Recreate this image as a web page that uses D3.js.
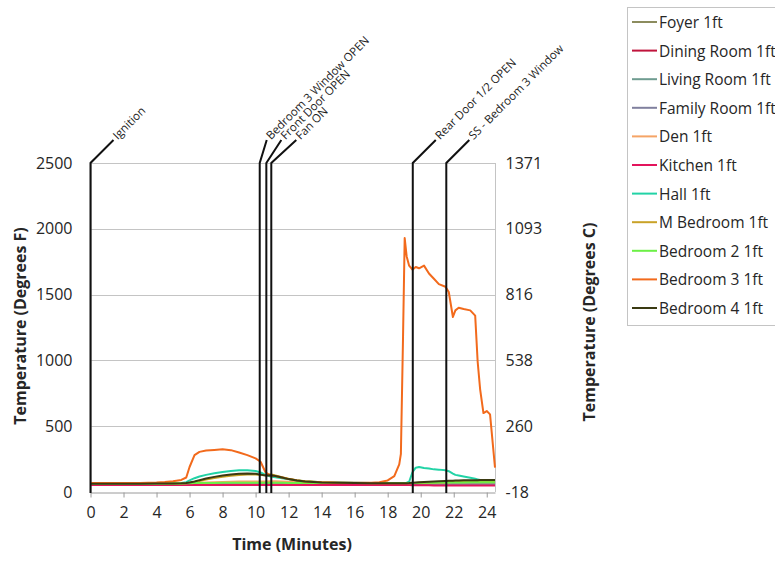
<!DOCTYPE html>
<html>
<head>
<meta charset="utf-8">
<script src="https://cdn.jsdelivr.net/npm/d3@7"></script>
<style>
  html, body { margin: 0; padding: 0; background: #fff; }
  svg { display: block; font-family: "Open Sans", sans-serif; }
</style>
</head>
<body>
<svg id="chart" width="775" height="561"></svg>
<script>
// ---------------- DATA ----------------
const minutes = [0, 1, 2, 3, 4, 4.5, 5, 5.5, 5.8, 6.0, 6.3, 6.6, 7, 7.5, 8, 8.5, 9, 9.5, 10, 10.3,
  10.6, 10.9, 11.2, 11.6, 12, 12.5, 13, 14, 15, 16, 17, 17.5, 18, 18.4, 18.7, 18.8, 18.93, 19.03, 19.15, 19.3,
  19.5, 19.7, 19.9, 20.2, 20.5, 20.8, 21.1, 21.5, 21.7, 21.95, 22.1, 22.3, 22.6, 23.0, 23.3, 23.45, 23.6, 23.8, 24.0, 24.2,
  24.5];

const foyer = [62, 62, 62, 62, 62, 62, 62, 62, 62, 62, 62, 63, 63, 64, 64, 65, 65, 66, 66, 66,
  67, 68, 68, 67, 66, 65, 64, 63, 62, 62, 62, 62, 62, 62, 62, 62, 62, 62, 62, 62,
  62, 62, 62, 62, 62, 62, 62, 62, 62, 62, 62, 62, 62, 62, 62, 62, 62, 62, 62, 62,
  62];
const diningRoom = [56, 56, 56, 56, 56, 56, 56, 56, 56, 56, 56, 56, 56, 56, 56, 56, 56, 56, 56, 56,
  56, 56, 56, 56, 56, 56, 56, 56, 56, 56, 56, 56, 56, 56, 56, 56, 56, 56, 56, 56,
  55, 55, 55, 55, 55, 55, 55, 55, 55, 55, 55, 55, 55, 55, 55, 55, 55, 55, 55, 55,
  55];
const livingRoom = [61, 61, 61, 61, 61, 61, 61, 61, 61, 61, 62, 62, 63, 63, 64, 64, 65, 65, 65, 65,
  66, 66, 66, 65, 64, 63, 63, 62, 62, 61, 61, 61, 61, 61, 61, 61, 61, 61, 61, 61,
  62, 62, 62, 62, 62, 62, 62, 62, 62, 62, 62, 62, 62, 62, 62, 62, 62, 62, 62, 62,
  62];
const familyRoom = [59, 59, 59, 59, 59, 59, 59, 59, 59, 59, 59, 59, 60, 60, 60, 60, 61, 61, 61, 61,
  61, 61, 61, 61, 60, 60, 60, 60, 59, 59, 59, 59, 59, 59, 59, 59, 59, 59, 59, 59,
  59, 59, 59, 59, 59, 59, 59, 59, 59, 59, 59, 59, 59, 59, 59, 59, 59, 59, 59, 59,
  59];
const den = [65, 65, 65, 65, 65, 65, 66, 66, 66, 67, 68, 70, 72, 74, 76, 78, 79, 80, 80, 80,
  80, 82, 82, 80, 77, 74, 72, 70, 68, 67, 66, 66, 66, 66, 66, 66, 66, 66, 66, 66,
  67, 68, 69, 70, 71, 72, 72, 73, 73, 74, 74, 74, 74, 75, 75, 75, 75, 75, 75, 75,
  75];
const kitchen = [54, 54, 54, 54, 54, 54, 54, 54, 54, 54, 54, 54, 54, 54, 54, 54, 54, 54, 54, 54,
  54, 54, 54, 54, 54, 54, 54, 54, 54, 54, 54, 54, 54, 54, 54, 54, 54, 54, 54, 54,
  52, 52, 51, 51, 51, 50, 50, 50, 50, 50, 50, 50, 50, 50, 50, 50, 50, 50, 50, 50,
  50];
const hall = [64, 64, 64, 64, 65, 65, 66, 68, 75, 88, 105, 118, 130, 142, 152, 160, 165, 165, 160, 148,
  130, 118, 112, 105, 97, 88, 82, 75, 72, 70, 69, 69, 69, 69, 69, 69, 69, 69, 70, 78,
  150, 185, 190, 182, 178, 172, 170, 165, 158, 140, 130, 125, 118, 108, 100, 96, 92, 88, 85, 83,
  82];
const mBedroom = [63, 63, 63, 63, 64, 64, 64, 65, 66, 70, 76, 84, 95, 106, 116, 124, 130, 133, 133, 130,
  128, 135, 125, 112, 100, 90, 82, 74, 70, 68, 67, 67, 67, 67, 67, 67, 67, 67, 67, 67,
  68, 69, 70, 71, 72, 73, 74, 75, 76, 77, 77, 78, 78, 79, 79, 80, 80, 80, 80, 80,
  80];
const bedroom2 = [65, 65, 65, 65, 65, 65, 65, 65, 66, 67, 68, 68, 69, 69, 70, 70, 70, 70, 70, 70,
  70, 70, 70, 70, 69, 69, 69, 68, 68, 68, 68, 68, 68, 68, 68, 68, 68, 68, 68, 68,
  69, 69, 70, 70, 71, 71, 72, 72, 72, 73, 73, 73, 73, 74, 74, 74, 74, 74, 74, 74,
  74];
const bedroom3 = [68, 68, 68, 69, 72, 76, 82, 92, 110, 190, 280, 305, 315, 320, 325, 318, 300, 280, 255, 230,
  150, 125, 122, 110, 98, 88, 80, 74, 71, 70, 71, 75, 88, 120, 210, 290, 1180, 1930, 1790, 1720,
  1690, 1710, 1700, 1720, 1660, 1620, 1580, 1560, 1520, 1330, 1380, 1400, 1390, 1380, 1340, 990, 780, 600, 615, 590,
  185];
const bedroom4 = [63, 63, 63, 63, 64, 64, 65, 66, 68, 72, 80, 90, 102, 115, 125, 133, 138, 140, 138, 132,
  125, 128, 122, 110, 98, 88, 80, 73, 70, 68, 67, 67, 67, 67, 67, 67, 67, 67, 67, 68,
  70, 72, 74, 76, 78, 80, 82, 84, 85, 86, 87, 88, 89, 90, 90, 90, 91, 91, 92, 92,
  92];

const seriesNames = ["Foyer 1ft", "Dining Room 1ft", "Living Room 1ft", "Family Room 1ft", "Den 1ft",
  "Kitchen 1ft", "Hall 1ft", "M Bedroom 1ft", "Bedroom 2 1ft", "Bedroom 3 1ft", "Bedroom 4 1ft"];
const seriesValues = [foyer, diningRoom, livingRoom, familyRoom, den, kitchen, hall, mBedroom, bedroom2, bedroom3, bedroom4];
const seriesColors = ["#8c8c5e", "#c0143c", "#6f9c90", "#80809e", "#f5a466", "#e3145c", "#22d3a6",
  "#c9a227", "#6cf046", "#f26a1c", "#3a3a12"];

const eventTimes = [0, 10.25, 10.65, 10.95, 19.52, 21.55];
const eventLabels = ["Ignition", "Bedroom 3 Window OPEN", "Front Door OPEN", "Fan ON",
  "Rear Door 1/2 OPEN", "SS - Bedroom 3 Window"];

const xTicks = [0, 2, 4, 6, 8, 10, 12, 14, 16, 18, 20, 22, 24];
const yTicksF = [0, 500, 1000, 1500, 2000, 2500];

// ---------------- DRAWING ----------------
const svg = d3.select("#chart");
svg.append("rect").attr("width", 775).attr("height", 561).attr("fill", "#fff");

const x = d3.scaleLinear().domain([0, 24.5]).range([90.5, 495]);
const y = d3.scaleLinear().domain([0, 2500]).range([492, 163]);
const toC = f => (f - 32) * 5 / 9;
const yC = d3.scaleLinear().domain([toC(0), toC(2500)]).range([492, 163]);

// gridlines
svg.append("g").selectAll("line").data(yTicksF.filter(d => d > 0)).join("line")
  .attr("x1", x(0)).attr("x2", x(24.5))
  .attr("y1", d => Math.round(y(d)) + 0.5).attr("y2", d => Math.round(y(d)) + 0.5)
  .attr("stroke", "#c4c4c4").attr("stroke-width", 1);
// right border
svg.append("line").attr("x1", 495.5).attr("x2", 495.5).attr("y1", y(2500)).attr("y2", y(0))
  .attr("stroke", "#c4c4c4");

// left axis
const yAxis = d3.axisLeft(y).tickValues(yTicksF).tickSize(0).tickPadding(18).tickFormat(d3.format("d"));
const gy = svg.append("g").attr("transform", "translate(90.5,0)").call(yAxis);
gy.select(".domain").attr("stroke", "#8a8a8a");
gy.selectAll("text").attr("font-size", 16).attr("fill", "#262626").attr("font-family", "Open Sans");

// right axis (Celsius)
const yAxisR = d3.axisRight(yC).tickValues(yTicksF.map(toC)).tickSize(0).tickPadding(10)
  .tickFormat(d => Math.round(d));
const gyr = svg.append("g").attr("transform", "translate(495.5,0)").call(yAxisR);
gyr.select(".domain").remove();
gyr.selectAll("text").attr("font-size", 16).attr("fill", "#262626").attr("font-family", "Open Sans");

// bottom axis
const xAxis = d3.axisBottom(x).tickValues(xTicks).tickSize(5).tickPadding(9).tickSizeOuter(0);
const gx = svg.append("g").attr("transform", "translate(0,492.5)").call(xAxis);
gx.select(".domain").attr("stroke", "#9a9a9a");
gx.selectAll(".tick line").attr("stroke", "#9a9a9a");
gx.selectAll("text").attr("font-size", 16).attr("fill", "#262626").attr("font-family", "Open Sans");

// axis titles
svg.append("text").attr("x", 292).attr("y", 550).attr("text-anchor", "middle")
  .attr("font-size", 16).attr("font-weight", "bold").attr("fill", "#262626")
  .text("Time (Minutes)");
svg.append("text").attr("transform", "translate(26,326) rotate(-90)").attr("text-anchor", "middle")
  .attr("font-size", 16).attr("font-weight", "bold").attr("fill", "#262626")
  .text("Temperature (Degrees F)");
svg.append("text").attr("transform", "translate(595,322) rotate(-90)").attr("text-anchor", "middle")
  .attr("font-size", 16).attr("font-weight", "bold").attr("fill", "#262626")
  .text("Temperature (Degrees C)");

// series lines
const line = d3.line().x((d, i) => x(minutes[i])).y(d => y(d)).curve(d3.curveLinear);
svg.append("g").selectAll("path").data(seriesValues).join("path")
  .attr("d", d => line(d))
  .attr("fill", "none")
  .attr("stroke", (d, i) => seriesColors[i])
  .attr("stroke-width", 2)
  .attr("stroke-linejoin", "round");

// event markers
const leaderDx = [23, 7, 15, 25, 23, 23];
const ev = svg.append("g");
eventTimes.forEach((t, i) => {
  const ex = x(t);
  const topY = y(2500);
  ev.append("path")
    .attr("d", `M${ex},${y(0) + 1}L${ex},${topY}L${ex + leaderDx[i]},${topY - 23}`)
    .attr("fill", "none").attr("stroke", "#111").attr("stroke-width", 2);
  ev.append("text")
    .attr("transform", `translate(${ex + leaderDx[i] + 2},${topY - 25}) rotate(-45)`)
    .attr("font-size", 11.5).attr("fill", "#222").attr("dominant-baseline", "middle")
    .text(eventLabels[i]);
});

// legend
const lg = svg.append("g");
lg.append("rect").attr("x", 627.5).attr("y", 7.5).attr("width", 160).attr("height", 318)
  .attr("fill", "#fff").attr("stroke", "#c4c4c4");
seriesNames.forEach((name, i) => {
  const ly = 22 + i * 28.6;
  lg.append("line").attr("x1", 632).attr("x2", 657).attr("y1", ly).attr("y2", ly)
    .attr("stroke", seriesColors[i]).attr("stroke-width", 2);
  lg.append("text").attr("x", 659).attr("y", ly).attr("dominant-baseline", "central")
    .attr("font-size", 15.5).attr("fill", "#262626").text(name);
});
</script>
</body>
</html>
